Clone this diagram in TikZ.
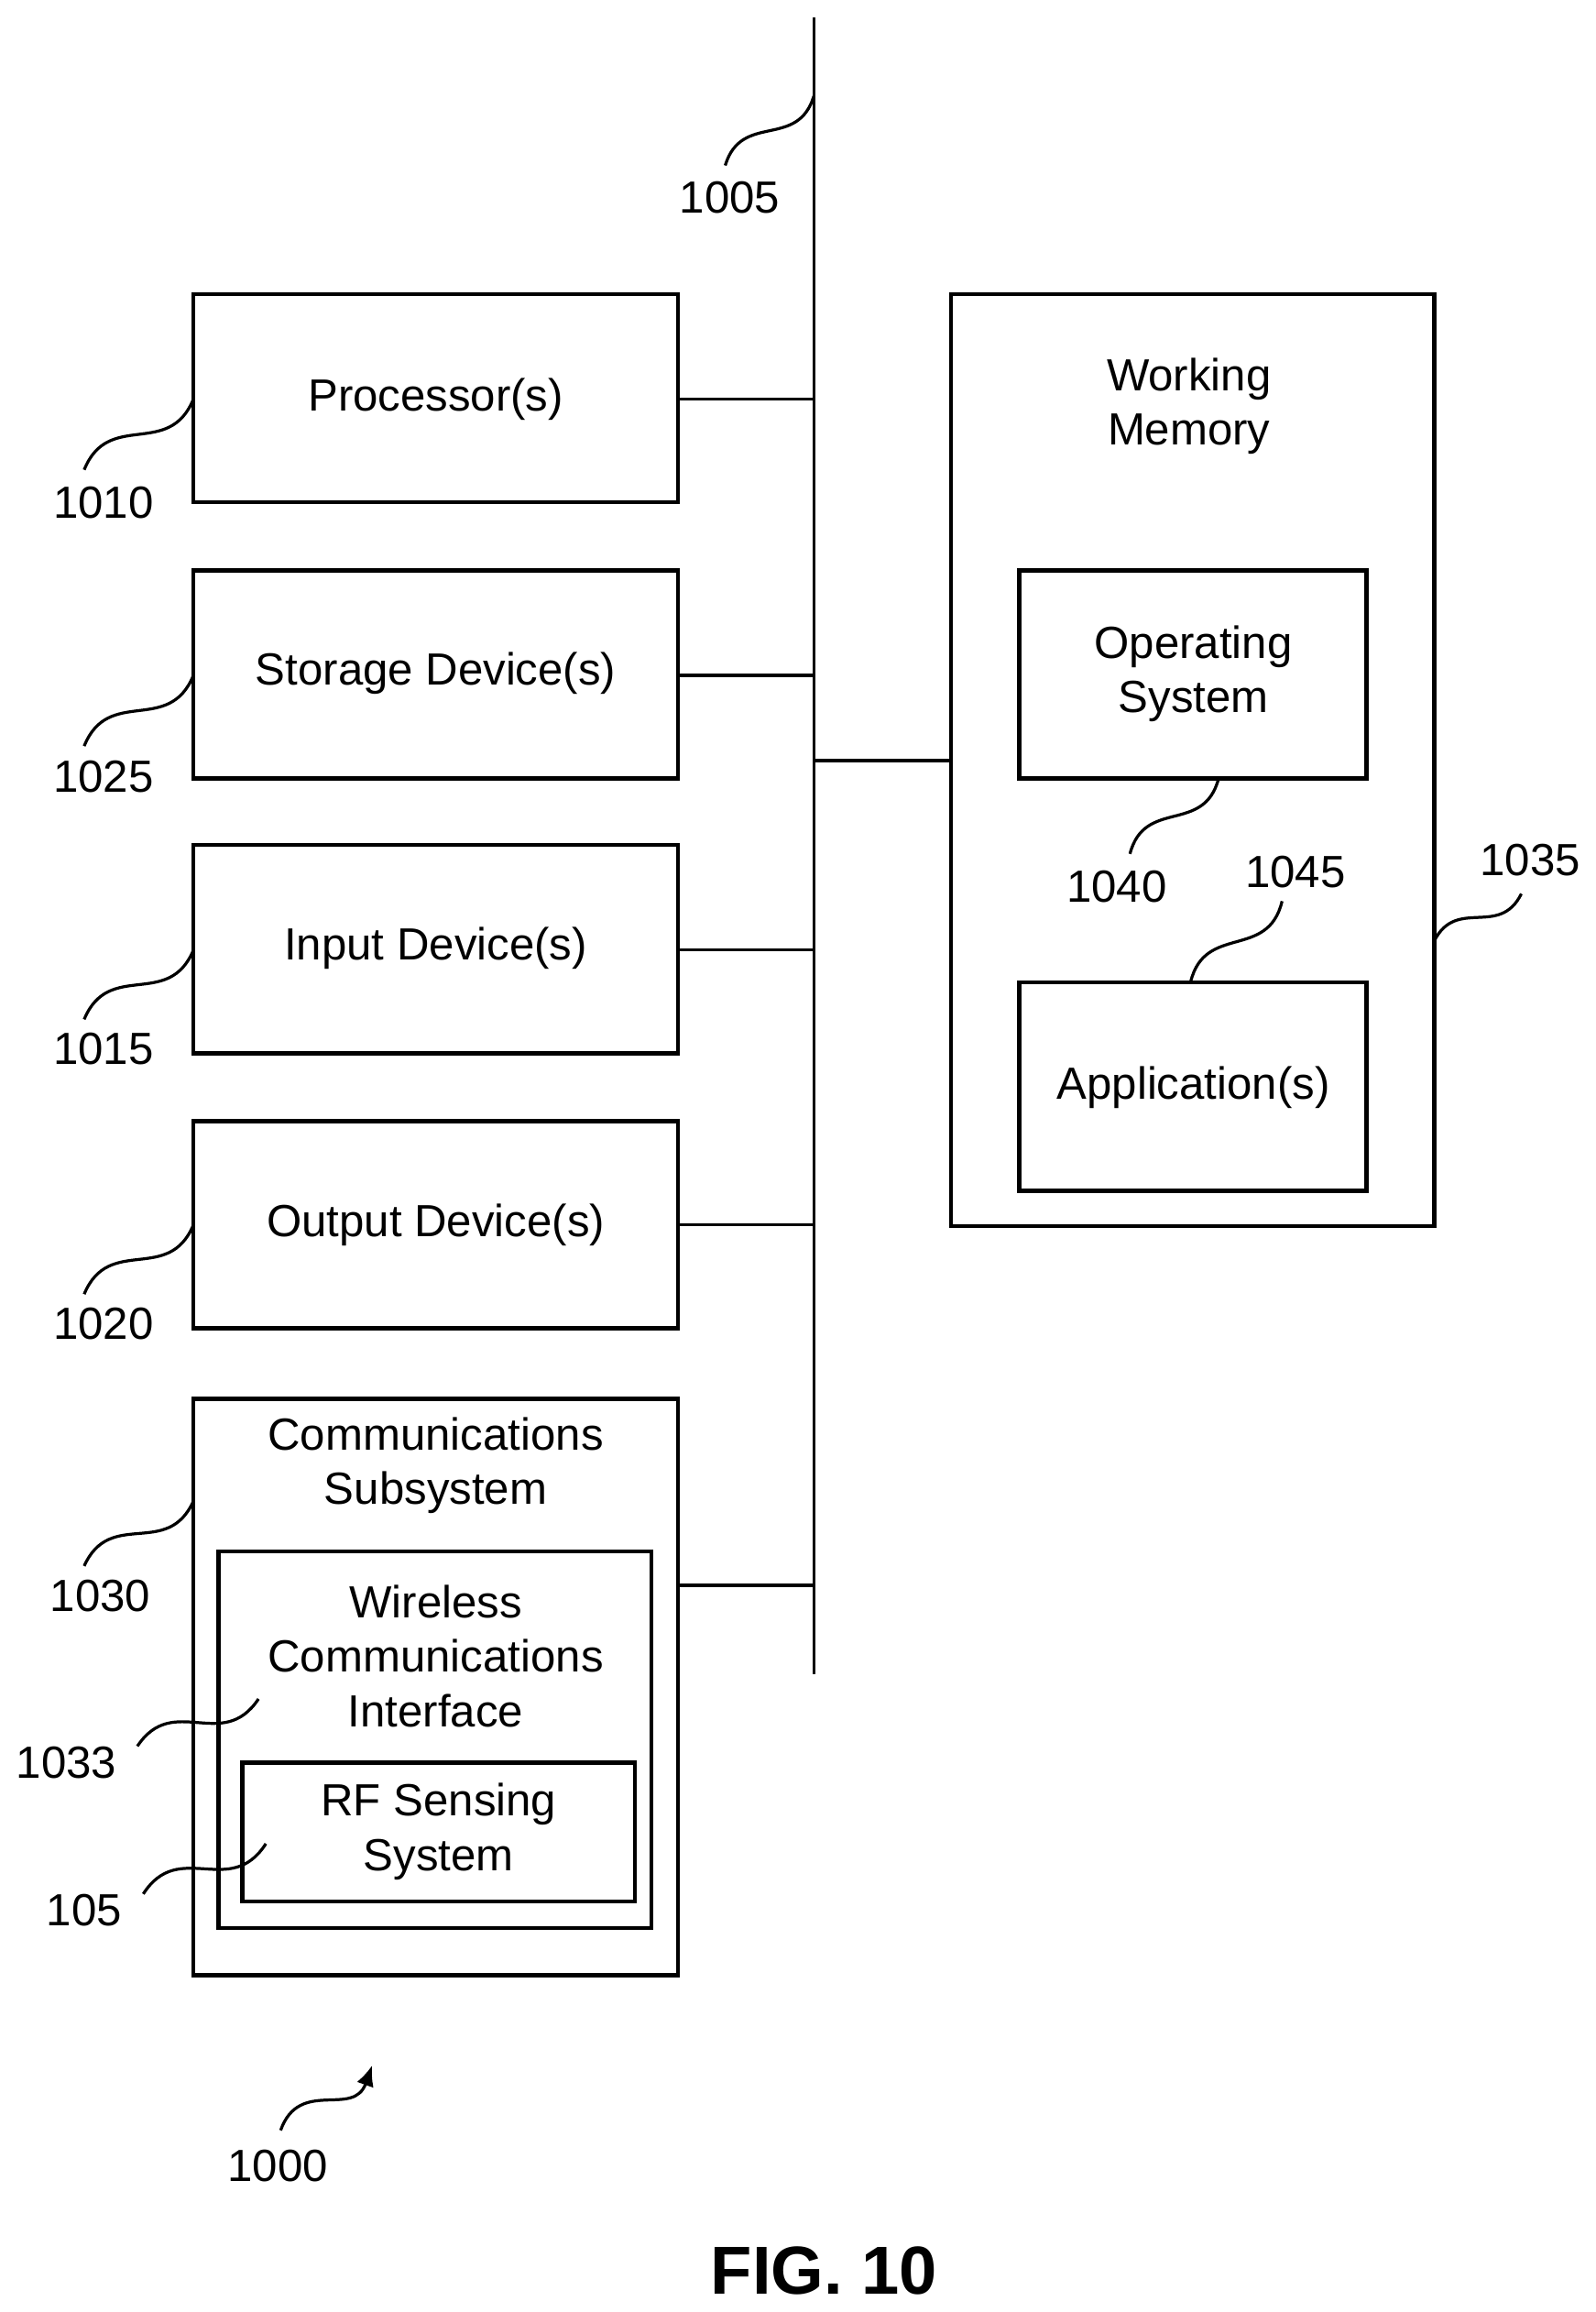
\documentclass[tikz,border=0pt]{standalone}
\usepackage{fontspec}
\setmainfont{Liberation Sans}
\usetikzlibrary{calc,arrows.meta}
\begin{document}
\begin{tikzpicture}[x=1pt,y=-1pt,
 box/.style={draw,line width=2.8pt},
 txt/.style={font=\fontsize{30.5}{37}\selectfont,align=center},
 num/.style={font=\fontsize{30.5}{34}\selectfont},
 ln/.style={line width=2.2pt},
 wig/.style={line width=2pt}]
\useasboundingbox (0,0) rectangle (1080,1565);
\newcommand\wiggle[3][]{\draw[wig,#1] (#2) .. controls ($(#2)!0.5!35:(#3)$) and ($(#3)!0.5!35:(#2)$) .. (#3);}
% bus
\coordinate (bt) at (551,12); \coordinate (bb) at (551,1133);
\draw[ln] (bt) -- (bb);
% left boxes
\draw[box] (131,199) rectangle (459,340); \node[txt] (p) at (295,270) {Processor(s)};
\draw[box] (131,386) rectangle (459,527); \node[txt] (s) at (295,456) {Storage Device(s)};
\draw[box] (131,572) rectangle (459,713); \node[txt] (i) at (295,642) {Input Device(s)};
\draw[box] (131,759) rectangle (459,899); \node[txt] (o) at (295,829) {Output Device(s)};
\draw[box] (131,947) rectangle (459,1337); \node[txt] (c) at (295,992) {Communications\\Subsystem};
\draw[box] (148,1050) rectangle (441,1305); \node[txt] (w) at (295,1121) {Wireless\\Communications\\Interface};
\draw[box] (164,1193) rectangle (430,1287); \node[txt] (rf) at (297,1240) {RF Sensing\\System};
% connectors
\foreach \y/\n in {270/a,457/b,643/cc,829/d,1073/e}{
 \coordinate (L\n) at (459,\y); \coordinate (B\n) at (551,\y);
 \draw[ln] (L\n) -- (B\n);}
\coordinate (Bw) at (551,515); \coordinate (Wl) at (644,515);
\draw[ln] (Bw) -- (Wl);
% right
\draw[box] (644,199) rectangle (971,830); \node[txt] (wm) at (805,275) {Working\\Memory};
\draw[box] (690,386) rectangle (925,527); \node[txt] (os) at (808,456) {Operating\\System};
\draw[box] (690,665) rectangle (925,806); \node[txt] (ap) at (808,736) {Application(s)};
% labels
\node[num] (n1005) at (494,134) {1005};
\node[num] (n1010) at (70,340) {1010};
\node[num] (n1025) at (70,526) {1025};
\node[num] (n1015) at (70,710) {1015};
\node[num] (n1020) at (70,896) {1020};
\node[num] (n1030) at (68,1080) {1030};
\node[num] (n1033) at (45,1193) {1033};
\node[num] (n105) at (57,1293) {105};
\node[num] (n1040) at (756,600) {1040};
\node[num] (n1045) at (877,590) {1045};
\node[num] (n1035) at (1036,582) {1035};
\node[num] (n1000) at (188,1466) {1000};
\node[font=\bfseries\fontsize{46}{52}\selectfont] (fig) at (558,1537) {FIG. 10};
% leaders
\coordinate (a1) at (551,65); \coordinate (a2) at (491,112); \wiggle{a1}{a2}
\foreach \y/\yy in {270/318,457/505,643/690,829/876,1016/1060}{
 \coordinate (q1) at (131,\y); \coordinate (q2) at (57,\yy); \wiggle{q1}{q2}}
\coordinate (r1) at (175,1150); \coordinate (r2) at (93,1182); \wiggle{r1}{r2}
\coordinate (t1) at (180,1248); \coordinate (t2) at (97,1282); \wiggle{t1}{t2}
\coordinate (o1) at (825,527); \coordinate (o2) at (765,578); \wiggle{o1}{o2}
\coordinate (p1) at (806,665); \coordinate (p2) at (868,610); \wiggle{p1}{p2}
\coordinate (k1) at (971,637); \coordinate (k2) at (1030,605); \wiggle{k1}{k2}
\coordinate (m1) at (190,1442); \coordinate (m2) at (252,1398);
\draw[wig,-{Latex[length=14pt,width=12pt]}] (m1) .. controls ($(m1)!0.5!35:(m2)$) and ($(m2)!0.5!35:(m1)$) .. (m2);
\end{tikzpicture}
\end{document}
